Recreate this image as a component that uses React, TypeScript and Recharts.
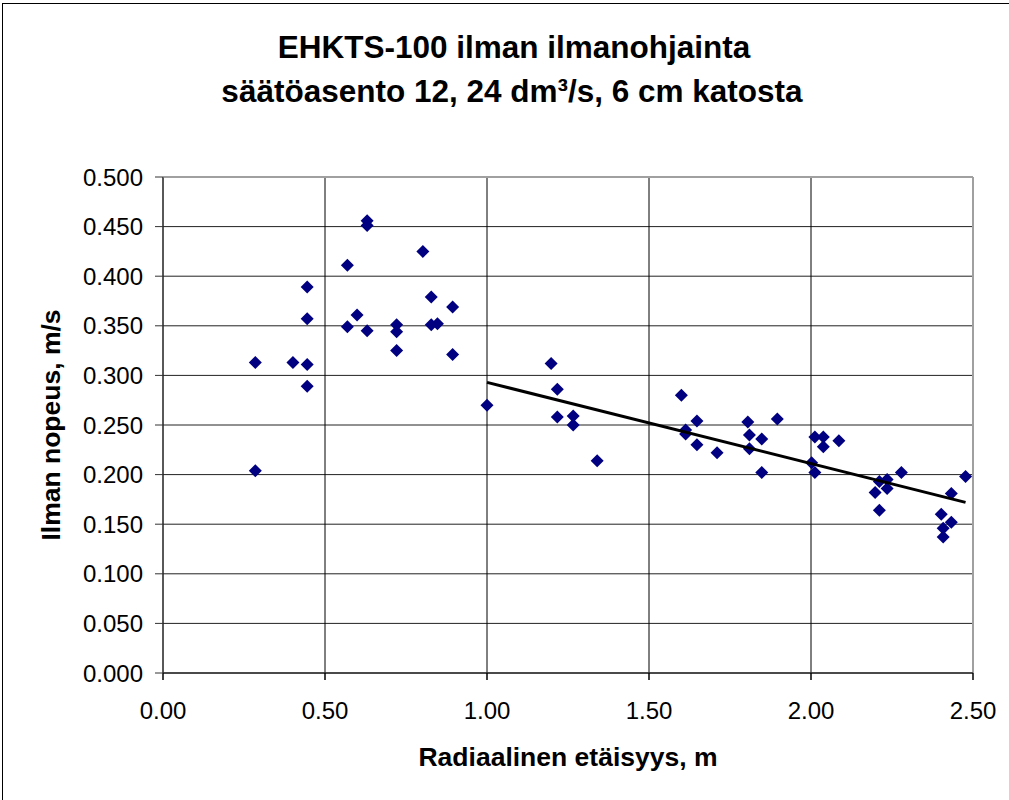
import { ScatterChart, Scatter, XAxis, YAxis, CartesianGrid, ReferenceLine } from "recharts";

// measured points, radial distance (m) / air speed (m/s)
const distances = [
  0.285, 0.285, 0.401, 0.445, 0.445, 0.445, 0.445, 0.569, 0.569, 0.599,
  0.63, 0.63, 0.63, 0.721, 0.721, 0.721, 0.802, 0.828, 0.828, 0.847,
  0.894, 0.894, 1.0, 1.198, 1.217, 1.217, 1.266, 1.266, 1.34, 1.6,
  1.613, 1.613, 1.648, 1.648, 1.71, 1.805, 1.81, 1.81, 1.848, 1.848,
  1.896, 2.002, 2.012, 2.012, 2.038, 2.038, 2.086, 2.198, 2.211, 2.211,
  2.235, 2.235, 2.279, 2.402, 2.408, 2.408, 2.433, 2.433, 2.477,
];
const speeds = [
  0.313, 0.204, 0.313, 0.311, 0.289, 0.357, 0.389, 0.411, 0.349, 0.361,
  0.456, 0.451, 0.345, 0.351, 0.344, 0.325, 0.425, 0.379, 0.351, 0.352,
  0.369, 0.321, 0.27, 0.312, 0.286, 0.258, 0.259, 0.25, 0.214, 0.28,
  0.245, 0.241, 0.254, 0.23, 0.222, 0.253, 0.24, 0.226, 0.236, 0.202,
  0.256, 0.212, 0.202, 0.238, 0.238, 0.228, 0.234, 0.182, 0.193, 0.164,
  0.195, 0.186, 0.202, 0.16, 0.146, 0.137, 0.152, 0.181, 0.198,
];

// linear trend line end points
const trendX = [1.0, 2.477];
const trendY = [0.293, 0.172];

const xTicks = [0, 0.5, 1.0, 1.5, 2.0, 2.5];
const yTicks = [0, 0.05, 0.1, 0.15, 0.2, 0.25, 0.3, 0.35, 0.4, 0.45, 0.5];

const points = distances.map((x, i) => ({ x, y: speeds[i] }));
const trend = trendX.map((x, i) => ({ x, y: trendY[i] }));

const FONT = "'Liberation Sans', Arial, sans-serif";

const Diamond = (props: any) => {
  const { cx, cy } = props;
  if (cx == null || cy == null) return <g />;
  const r = 6.5;
  return (
    <polygon
      points={`${cx},${cy - r} ${cx + r},${cy} ${cx},${cy + r} ${cx - r},${cy}`}
      fill="#000080"
    />
  );
};

const NoDot = () => <g />;

export default function App() {
  return (
    <div
      style={{
        position: "absolute",
        left: 0,
        top: 0,
        width: 1009,
        height: 800,
        overflow: "hidden",
        background: "#fff",
        fontFamily: FONT,
      }}
    >
      <ScatterChart
        width={1009}
        height={800}
        margin={{ top: 177, right: 36, bottom: 0, left: 0 }}
      >
        <CartesianGrid horizontal={true} vertical={false} stroke="#222" />
        <CartesianGrid horizontal={false} vertical={true} stroke="#000" />
        <XAxis
          type="number"
          dataKey="x"
          domain={[0, 2.5]}
          ticks={xTicks}
          tickFormatter={(v: number) => v.toFixed(2)}
          height={127}
          tickSize={7}
          tickMargin={22}
          stroke="#333"
          strokeWidth={1.5}
          tick={{ fill: "#000", fontSize: 24, fontFamily: FONT }}
          tickLine={{ stroke: "#000" }}
          allowDataOverflow
        />
        <YAxis
          type="number"
          dataKey="y"
          domain={[0, 0.5]}
          ticks={yTicks}
          tickFormatter={(v: number) => v.toFixed(3)}
          width={163}
          tickSize={8}
          tickMargin={12}
          stroke="#333"
          tick={{ fill: "#000", fontSize: 24, fontFamily: FONT }}
          tickLine={{ stroke: "#333" }}
          allowDataOverflow
        />
        <ReferenceLine y={0.5} stroke="#a0a0a0" strokeWidth={2} />
        <ReferenceLine x={2.5} stroke="#a0a0a0" strokeWidth={2} />
        <Scatter data={points} shape={Diamond} isAnimationActive={false} />
        <Scatter
          data={trend}
          line={{ stroke: "#000", strokeWidth: 3 }}
          shape={NoDot}
          isAnimationActive={false}
        />
      </ScatterChart>
      <svg
        width={1009}
        height={800}
        style={{ position: "absolute", left: 0, top: 0, pointerEvents: "none" }}
      >
        <line x1={2.5} y1={3} x2={2.5} y2={800} stroke="#000" strokeWidth={1} />
        <line x1={2} y1={3.5} x2={1009} y2={3.5} stroke="#000" strokeWidth={1} />
        <text x={514} y={58} textAnchor="middle" fontSize={31.5} fontWeight="bold" fontFamily={FONT}>
          EHKTS-100 ilman ilmanohjainta
        </text>
        <text x={512} y={102} textAnchor="middle" fontSize={31.5} fontWeight="bold" fontFamily={FONT}>
          säätöasento 12, 24 dm³/s, 6 cm katosta
        </text>
        <text x={568} y={766} textAnchor="middle" fontSize={26.5} fontWeight="bold" fontFamily={FONT}>
          Radiaalinen etäisyys, m
        </text>
        <text
          x={60}
          y={425}
          textAnchor="middle"
          fontSize={26.5}
          fontWeight="bold"
          fontFamily={FONT}
          transform="rotate(-90 60 425)"
        >
          Ilman nopeus, m/s
        </text>
      </svg>
    </div>
  );
}
